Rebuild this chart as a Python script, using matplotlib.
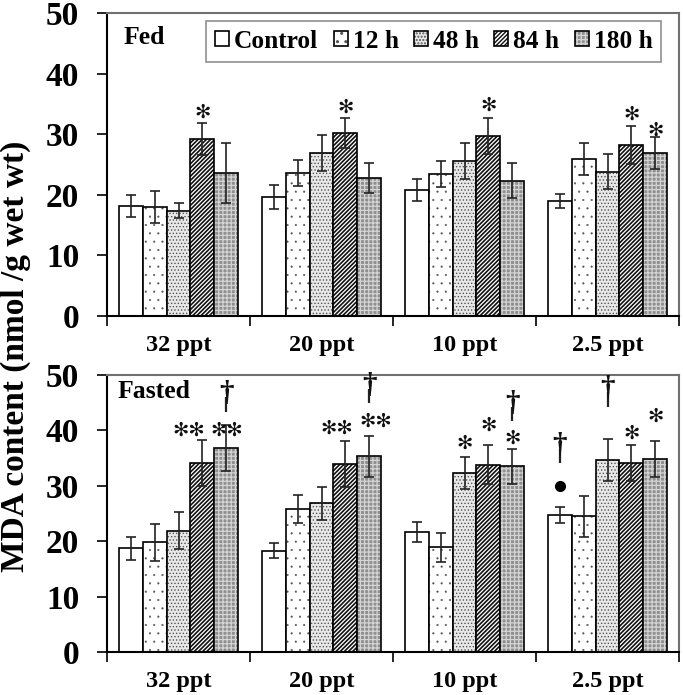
import matplotlib.pyplot as plt
import numpy as np

plt.rcParams['font.family'] = 'Liberation Serif'
plt.rcParams['font.weight'] = 'bold'

groups = ['32 ppt', '20 ppt', '10 ppt', '2.5 ppt']
series = ['Control', '12 h', '48 h', '84 h', '180 h']

# rows = series, columns = salinity groups
fed_mean = np.array([
    [18.2, 19.7, 20.8, 19.0],
    [18.0, 23.6, 23.4, 25.9],
    [17.4, 26.9, 25.6, 23.8],
    [29.2, 30.2, 29.7, 28.2],
    [23.6, 22.8, 22.3, 26.9],
])
fed_err = np.array([
    [1.8, 2.0, 1.8, 1.2],
    [2.7, 2.2, 2.1, 2.6],
    [1.2, 3.0, 3.0, 2.9],
    [2.6, 2.5, 3.0, 3.1],
    [5.0, 2.5, 2.9, 2.7],
])
fasted_mean = np.array([
    [18.7, 18.3, 21.6, 24.7],
    [19.8, 25.8, 18.9, 24.5],
    [21.9, 26.8, 32.3, 34.7],
    [34.1, 33.9, 33.8, 34.1],
    [36.8, 35.3, 33.5, 34.8],
])
fasted_err = np.array([
    [2.1, 1.3, 1.8, 1.5],
    [3.3, 2.6, 2.6, 3.7],
    [3.3, 2.9, 2.9, 3.8],
    [4.1, 4.1, 3.5, 3.2],
    [4.1, 3.7, 3.2, 3.2],
])

# significance marks: (group, series, text, y, x shift)
fed_stars = [(0, 3, '*', 33.7, 0), (1, 3, '*', 34.5, 0), (2, 3, '*', 34.7, 0),
             (3, 3, '*', 33.3, 0), (3, 4, '*', 30.6, 0)]
fasted_stars = [(0, 3, '**', 40.1, -0.095), (0, 4, '**', 40.1, 0.005),
                (1, 3, '**', 40.4, -0.06), (1, 4, '**', 41.6, 0.045),
                (2, 2, '*', 37.7, 0), (2, 3, '*', 41.0, 0), (2, 4, '*', 38.6, 0),
                (3, 3, '*', 39.5, 0), (3, 4, '*', 42.5, 0)]
# daggers: (group, series, bottom of stem)
fasted_daggers = [(0, 4, 43.4), (1, 4, 44.9), (2, 4, 41.6), (3, 0, 34.1), (3, 2, 44.3)]
fasted_dots = [(3, 0, 30.0)]

faces = ['white', 'white', '#e8e8e8', 'white', '#8f8f8f']
hatch_cols = ['white', '#555555', '#555555', '#111111', '#d4d4d4']
hatches = [None, '..', '.....', '////////', '++++']
hatch_lw = [0.8, 0.3, 0.6, 1.2, 0.9]

w = 1 / 6
x = np.arange(len(groups))

fig = plt.figure(figsize=(6.83, 6.95), dpi=100)
ax1 = fig.add_axes([0.1567, 0.5453, 0.8375, 0.436])
ax2 = fig.add_axes([0.1567, 0.0619, 0.8375, 0.3986])


def draw_panel(ax, means, errs):
    handles = []
    for i in range(len(series)):
        pos = x + (i - 2) * w
        with plt.rc_context({'hatch.linewidth': hatch_lw[i]}):
            fill = ax.bar(pos, means[i], w, color=faces[i], edgecolor=hatch_cols[i],
                          hatch=hatches[i], linewidth=0)
        edge = ax.bar(pos, means[i], w, fill=False, edgecolor='black', linewidth=1.2)
        ax.errorbar(pos, means[i], yerr=errs[i], fmt='none', ecolor='#222222',
                    elinewidth=1.2, capsize=3.5, capthick=1.2)
        handles.append((fill[0], edge[0]))
    ax.set_xlim(-0.5, 3.5)
    ax.set_ylim(0, 50)
    ax.set_yticks(np.arange(0, 51, 10))
    ax.set_xticks(x)
    ax.set_xticklabels(groups, fontsize=17.5, fontweight='bold')
    ax.set_xticks(np.arange(-0.5, 3.6, 1), minor=True)
    ax.tick_params(axis='x', which='major', length=0, pad=14)
    ax.tick_params(axis='x', which='minor', length=7, width=1.2, direction='out')
    ax.tick_params(axis='y', length=7, width=1.2, direction='out', pad=13, labelsize=24)
    for t in ax.get_yticklabels():
        t.set_fontweight('bold')
    ax.spines['left'].set_linewidth(1.5)
    ax.spines['bottom'].set_linewidth(1.5)
    for s in ['top', 'right']:
        ax.spines[s].set_color('#707070')
        ax.spines[s].set_linewidth(1.5)
    return handles


def add_stars(ax, marks):
    for g, s, txt, y, dx in marks:
        ax.text(x[g] + (s - 2) * w + dx, y, txt.replace('*', '\u273b'), ha='center',
                va='center', fontsize=14, family='DejaVu Sans', color='#111111')


handles = draw_panel(ax1, fed_mean, fed_err)
draw_panel(ax2, fasted_mean, fasted_err)

add_stars(ax1, fed_stars)
add_stars(ax2, fasted_stars)
for g, s, y in fasted_daggers:
    px = x[g] + (s - 2) * w
    ax2.vlines(px, y, y + 2.6, color='#222222', linewidth=1.6)
    ax2.text(px, y + 0.8, '\u2020', ha='center', va='bottom', fontsize=21, color='#111111')
for g, s, y in fasted_dots:
    ax2.plot(x[g] + (s - 2) * w, y, 'o', color='black', markersize=7)

ax1.text(0.028, 0.92, 'Fed', transform=ax1.transAxes, fontsize=18.5, va='center')
ax2.text(0.019, 0.939, 'Fasted', transform=ax2.transAxes, fontsize=18.5, va='center')

leg = ax1.legend(handles, series, ncol=5, loc='upper right', bbox_to_anchor=(0.969, 0.974),
                 prop={'family': 'Liberation Serif', 'weight': 'bold', 'size': 18.3},
                 fancybox=False, edgecolor='#909090', framealpha=1, borderaxespad=0,
                 handlelength=0.55, handleheight=0.55, handletextpad=0.2,
                 columnspacing=0.6, borderpad=0.35)
leg.get_frame().set_linewidth(1.2)

fig.text(0.022, 0.487, 'MDA content (nmol /g wet wt)', rotation=90, ha='center',
         va='center', fontsize=24, fontweight='bold')

fig.savefig('out.png', dpi=100)
